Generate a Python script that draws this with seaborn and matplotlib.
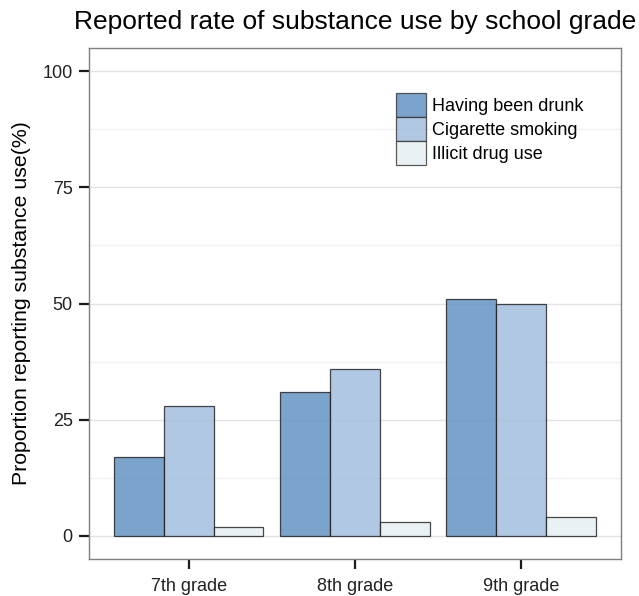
import matplotlib
matplotlib.use("Agg")
import matplotlib.pyplot as plt
import pandas as pd
import seaborn as sns

grades = ["7th grade", "8th grade", "9th grade"]
behaviours = ["Having been drunk", "Cigarette smoking", "Illicit drug use"]
drunk = [17, 31, 51]
smoking = [28, 36, 50]
drugs = [2, 3, 4]
y_ticks = [0, 25, 50, 75, 100]

rows = []
for i, g in enumerate(grades):
    rows.append({"grade": g, "behaviour": behaviours[0], "pct": drunk[i]})
    rows.append({"grade": g, "behaviour": behaviours[1], "pct": smoking[i]})
    rows.append({"grade": g, "behaviour": behaviours[2], "pct": drugs[i]})
df = pd.DataFrame(rows)

sns.set_style("white")
plt.rcParams["font.family"] = ["Liberation Sans", "DejaVu Sans"]

palette = ["#5A8EC0", "#9DBBDC", "#E5EEF2"]

fig = plt.figure(figsize=(6.39, 5.96), dpi=100)
ax = fig.add_axes([0.139, 0.062, 0.8326, 0.8574])

# grid first so it shows through the translucent bars
ax.set_axisbelow(True)
ax.set_yticks(y_ticks)
ax.set_yticks([12.5, 37.5, 62.5, 87.5], minor=True)
ax.grid(True, which="major", color="#e3e3e3", linewidth=1.0)
ax.grid(True, which="minor", axis="y", color="#f0f0f0", linewidth=1.0)

sns.barplot(
    data=df, x="grade", y="pct", hue="behaviour",
    hue_order=behaviours, order=grades, palette=palette, saturation=1,
    width=0.9, alpha=0.8, edgecolor="#1a1a1a", linewidth=0.9,
    errorbar=None, ax=ax,
)

ax.set_xlim(-0.6, 2.6)
ax.set_ylim(-5, 105)
ax.set_yticks(y_ticks)
ax.set_yticklabels([str(v) for v in y_ticks])

for s in ax.spines.values():
    s.set_visible(True)
    s.set_color("#7f7f7f")
    s.set_linewidth(1.0)

ax.tick_params(axis="both", which="major", direction="out", length=7.5, width=1.6,
               color="#1a1a1a", labelsize=13, labelcolor="#222222", pad=4,
               left=True, bottom=True)
ax.tick_params(axis="x", which="major", pad=6)
ax.tick_params(axis="y", which="minor", length=0)

ax.set_xlabel("")
ax.set_ylabel("Proportion reporting substance use(%)", fontsize=15.3,
              labelpad=8, color="black")
ax.set_title("Reported rate of substance use by school grade", fontsize=19,
             pad=14, color="black")

leg = ax.legend(loc="upper left", bbox_to_anchor=(0.577, 0.912), frameon=False,
                fontsize=13, handlelength=1.67, handleheight=1.67, labelspacing=0,
                borderpad=0, borderaxespad=0, handletextpad=0.33, title=None)
for h in leg.legend_handles:
    h.set_edgecolor("#333333")
    h.set_linewidth(0.9)
for t in leg.get_texts():
    t.set_color("black")

fig.savefig("out.png", dpi=100)
